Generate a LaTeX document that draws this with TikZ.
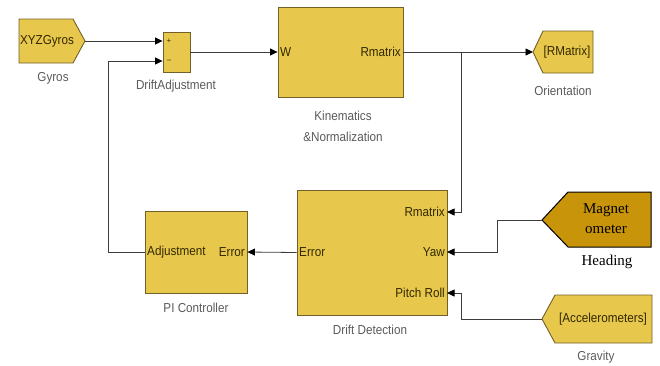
\documentclass[tikz,border=0pt]{standalone}
\usepackage{fontspec}
\setmainfont{Liberation Sans}[FakeStretch=0.9]
\newfontfamily\timesf{Liberation Serif}
\usetikzlibrary{arrows.meta}
\definecolor{blk}{RGB}{232,200,76}
\definecolor{blkedge}{RGB}{115,95,40}
\definecolor{magfill}{RGB}{200,148,10}
\definecolor{lbl}{RGB}{90,90,90}
\definecolor{porttxt}{RGB}{50,40,0}
\definecolor{wirec}{RGB}{60,60,60}
\begin{document}
\begin{tikzpicture}[x=1pt,y=-1pt,
 block/.style={draw=blkedge, fill=blk, line width=0.9pt, inner sep=0pt},
 tagshape/.style={draw=blkedge, fill=blk, line width=0.9pt},
 port/.style={font=\fontsize{13}{14}\selectfont, text=porttxt, inner sep=1pt},
 lab/.style={font=\fontsize{13}{21}\selectfont, text=lbl, align=center, inner sep=0pt},
 serif/.style={font=\timesf\fontsize{15}{20}\selectfont, text=black, align=center, inner sep=0pt},
 wire/.style={draw=wirec, line width=0.8pt},
 arr/.style={wire, -{Triangle[length=7.5pt,width=7pt,color=black]}},
]
\useasboundingbox (0,0) rectangle (660,365);

% Gyros tag
\draw[tagshape] (19,19) -- (73,19) -- (85,41) -- (73,63) -- (19,63) -- cycle;
\node[port] (gyrotxt) at (47,41) {XYZGyros};
\coordinate (gyrop) at (85,41);
\node[lab] (gyrolab) at (53,78) {Gyros};

% Sum block
\node[block, minimum width=27pt, minimum height=40pt] (sum) at (176.5,52) {};
\node[port, font=\fontsize{8}{9}\selectfont] (plus) at (169,41) {+};
\node[port, font=\fontsize{8}{9}\selectfont] (minus) at (169,61) {--};
\node[lab] (sumlab) at (176,86) {DriftAdjustment};

% Kinematics block
\node[block, minimum width=125pt, minimum height=90pt] (kin) at (340.5,52) {};
\node[port, anchor=west] (kinw) at (279,52) {W};
\node[port, anchor=east] (kinr) at (402,52) {Rmatrix};
\node[lab] (kinlab) at (343,126) {Kinematics\\\&Normalization};

% Orientation tag
\draw[tagshape] (533,52) -- (543,31) -- (593,31) -- (593,73) -- (543,73) -- cycle;
\node[port] (orienttxt) at (567,52) {[RMatrix]};
\coordinate (orientp) at (533,52);
\node[lab] (orientlab) at (563,91) {Orientation};

% Drift Detection block
\node[block, minimum width=150pt, minimum height=125pt] (drift) at (372,252.5) {};
\node[port, anchor=east] (drR) at (446,212) {Rmatrix};
\node[port, anchor=east] (drY) at (446,252) {Yaw};
\node[port, anchor=east] (drP) at (446,293) {Pitch Roll};
\node[port, anchor=west] (drE) at (298,252) {Error};
\node[lab] (driftlab) at (370,330) {Drift Detection};
\coordinate (inR) at (447,212);
\coordinate (inY) at (447,252);
\coordinate (inP) at (447,293);

% PI Controller
\node[block, minimum width=102pt, minimum height=82pt] (pi) at (196,252) {};
\node[port, anchor=west] (piA) at (146,252) {Adjustment};
\node[port, anchor=east] (piE) at (246,252) {Error};
\node[lab] (pilab) at (196,308) {PI Controller};

% Magnetometer tag
\draw[line width=1pt, draw=black, fill=magfill] (542,220) -- (568,192) -- (651,192) -- (651,247) -- (568,247) -- cycle;
\node[serif] (magtxt) at (606,219) {Magnet\\ometer};
\coordinate (magp) at (542,220);
\node[serif] (maglab) at (607,262) {Heading};

% Accelerometers tag
\draw[tagshape] (542,319) -- (555,295) -- (652,295) -- (652,343) -- (555,343) -- cycle;
\node[port] (acctxt) at (603,319) {[Accelerometers]};
\coordinate (accp) at (542,319);
\node[lab] (acclab) at (596,357) {Gravity};

% Junction / bends
\coordinate (br) at (461,52);
\coordinate (fb) at (108,61);

% Connectors
\draw[arr] (gyrop) -- (sum.west |- gyrop);
\draw[arr] (sum.east) -- (kin.west);
\draw[arr] (kin.east) -- (orientp);
\draw[arr] (br) |- (inR);
\draw[arr] (magp) -- (497,220) |- (inY);
\draw[arr] (accp) -- (461,319) |- (inP);
\draw[arr] (drift.west) -- (pi.east);
\draw[arr] (pi.west) -- (fb |- pi.west) -- (fb) -- (sum.west |- fb);
\end{tikzpicture}
\end{document}
